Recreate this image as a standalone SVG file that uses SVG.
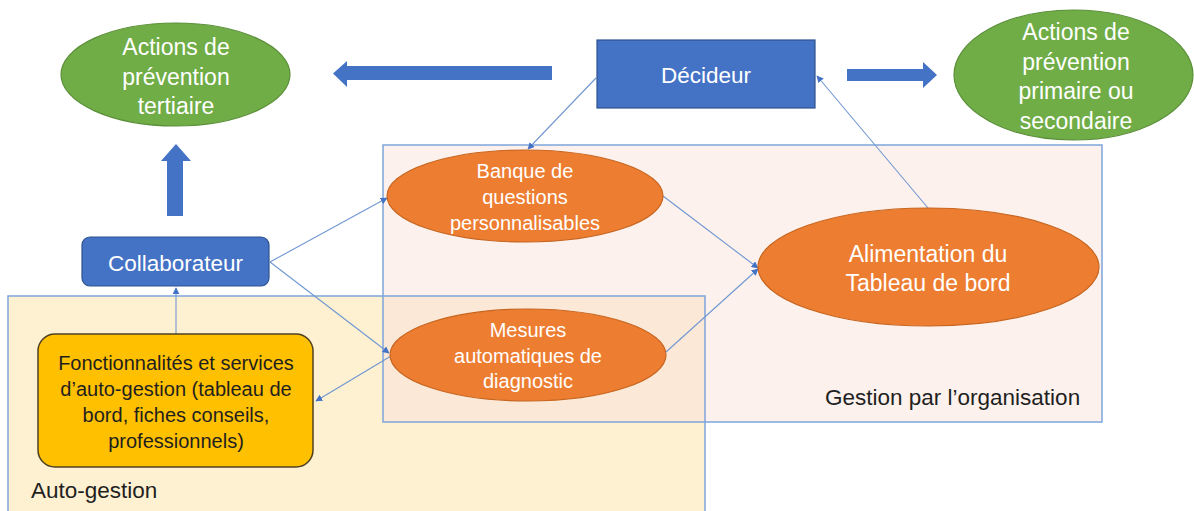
<svg xmlns="http://www.w3.org/2000/svg" width="1194" height="511" viewBox="0 0 1194 511">
<style>
text{font-family:"Liberation Sans",Arial,sans-serif;text-anchor:middle}
.w{fill:#ffffff}
.big{font-size:22.5px}
.g{font-size:23px}
.s{font-size:20px}
.dark{fill:#1f1f1f}
.green{fill:#70AD47;stroke:#5B8F39;stroke-width:1.2}
.orange{fill:#ED7D31;stroke:#C7651F;stroke-width:1.2}
.blue{fill:#4472C4;stroke:#2F528F;stroke-width:1.2}
.conn{stroke:#7097D2;stroke-width:1.1;fill:none;marker-end:url(#ah)}
.frame{fill:none;stroke:#7EA5DC;stroke-width:1.5}
.block{fill:#4472C4}
</style>
<defs>
<marker id="ah" viewBox="0 0 10 10" refX="9" refY="5" markerWidth="7" markerHeight="7" markerUnits="userSpaceOnUse" orient="auto">
<path d="M0,0 L10,5 L0,10 z" fill="#4472C4"/>
</marker>
</defs>
<rect width="1194" height="511" fill="#ffffff"/>
<g id="zone-organisation">
<rect x="383" y="145" width="719" height="277" fill="#FCF1EC"/>
</g>
<g id="zone-autogestion">
<rect x="8" y="296" width="697" height="220" fill="#FEF1D2"/>
<rect x="383" y="296" width="322" height="126" fill="#FBE8D6"/>
<rect x="383" y="145" width="719" height="277" class="frame"/>
<rect x="8" y="296" width="697" height="220" class="frame"/>
<text class="big dark" x="825" y="405" style="text-anchor:start">Gestion par l’organisation</text>
<text class="big dark" x="31" y="498" style="text-anchor:start">Auto-gestion</text>
</g>
<g id="block-arrows">
<path class="block" d="M552,66 L347,66 L347,61 L333,73.5 L347,87 L347,80 L552,80 z"/>
<path class="block" d="M847,69 L923,69 L923,62 L937,75 L923,88 L923,81 L847,81 z"/>
<path class="block" d="M167,216 L167,161 L161,161 L176,144 L191,161 L183,161 L183,216 z"/>
</g>
<g id="connectors">
<line class="conn" x1="596" y1="78" x2="528" y2="149"/>
<line class="conn" x1="928" y1="208" x2="817" y2="76"/>
<line class="conn" x1="270" y1="262" x2="387" y2="198"/>
<line class="conn" x1="270" y1="262" x2="389" y2="353"/>
<line class="conn" x1="391" y1="356" x2="316" y2="401"/>
<line class="conn" x1="176" y1="334" x2="176" y2="288"/>
<line class="conn" x1="663" y1="196" x2="758" y2="268"/>
<line class="conn" x1="666" y1="352" x2="758" y2="269"/>
</g>
<g id="actions-tertiaire">
<ellipse class="green" cx="175.5" cy="74.5" rx="114.5" ry="51.5"/>
<text class="g w" x="176" y="55">Actions de</text>
<text class="g w" x="176" y="84.5">prévention</text>
<text class="g w" x="176" y="114">tertiaire</text>
</g>
<g id="decideur">
<rect class="blue" x="597" y="40" width="218" height="68"/>
<text class="big w" x="706" y="83">Décideur</text>
</g>
<g id="actions-primaire">
<ellipse class="green" cx="1073.5" cy="75" rx="119.5" ry="65"/>
<text class="g w" x="1076" y="40">Actions de</text>
<text class="g w" x="1076" y="69.5">prévention</text>
<text class="g w" x="1076" y="99">primaire ou</text>
<text class="g w" x="1076" y="128.5">secondaire</text>
</g>
<g id="banque">
<ellipse class="orange" cx="525" cy="196" rx="138" ry="46"/>
<text class="s w" x="525" y="178">Banque de</text>
<text class="s w" x="525" y="204">questions</text>
<text class="s w" x="525" y="230">personnalisables</text>
</g>
<g id="alimentation">
<ellipse class="orange" cx="928.5" cy="267" rx="170.5" ry="59"/>
<text class="g w" x="928" y="262">Alimentation du</text>
<text class="g w" x="928" y="291">Tableau de bord</text>
</g>
<g id="mesures">
<ellipse class="orange" cx="528" cy="355" rx="138" ry="46"/>
<text class="s w" x="528" y="337">Mesures</text>
<text class="s w" x="528" y="362.5">automatiques de</text>
<text class="s w" x="528" y="388">diagnostic</text>
</g>
<g id="collaborateur">
<rect class="blue" x="82" y="237" width="187" height="49" rx="8"/>
<text class="big w" x="175.5" y="271">Collaborateur</text>
</g>
<g id="fonctionnalites">
<rect x="38" y="334" width="275" height="133" rx="17" fill="#FFC000" stroke="#4F4020" stroke-width="1.5"/>
<text class="s dark" x="176" y="370">Fonctionnalités et services</text>
<text class="s dark" x="176" y="396">d’auto-gestion (tableau de</text>
<text class="s dark" x="176" y="422">bord, fiches conseils,</text>
<text class="s dark" x="176" y="448">professionnels)</text>
</g>
</svg>
